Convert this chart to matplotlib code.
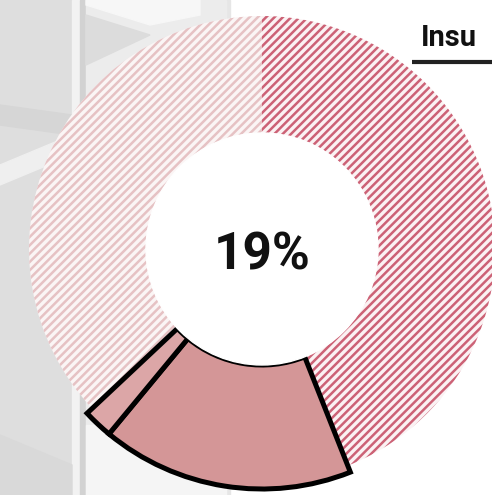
import matplotlib.pyplot as plt
from matplotlib.patches import Circle, Polygon, Rectangle

################################
## DATA:                      ##

segments = ['other', 'share', 'share_small', 'rest']
shares = [44, 17, 2, 37]
center_label = '19%'
heading = 'Insu'

################################
## STYLE:                     ##

FACES = ['#fbf2f3', '#d49697', '#dca6a7', '#fbf5f5']
STRIPES = ['#cc6276', 'black', 'black', '#e6c2c4']
HATCHES = ['////', '', '', '////']
HIGHLIGHT = [False, True, True, False]

CX, CY = 262, 246
R_OUT, R_IN = 233, 116
R_HI = 240

plt.rcParams['hatch.linewidth'] = 1.8
plt.rcParams['font.family'] = ['Roboto', 'DejaVu Sans']

fig = plt.figure(figsize=(4.92, 4.95), dpi=100)
fig.patch.set_facecolor('white')
ax = fig.add_axes([0, 0, 1, 1])

################################
## BACKGROUND (photo-ish):    ##

ax.add_patch(Rectangle((0, 0), 230, 495, color='#e6e6e6', zorder=0))
ax.add_patch(Rectangle((0, 0), 72, 495, color='#dedede', zorder=0))
ax.add_patch(Rectangle((72, 0), 8, 495, color='#f2f2f2', zorder=0))
ax.add_patch(Rectangle((80, 0), 6, 495, color='#d2d2d2', zorder=0))
ax.add_patch(Rectangle((86, 0), 140, 495, color='#ececec', zorder=0))
ax.add_patch(Polygon([(86, 490), (150, 470), (200, 480), (200, 495), (86, 495)],
                     color='#f7f7f7', zorder=0))
ax.add_patch(Polygon([(86, 430), (150, 460), (86, 480)], color='#dcdcdc', zorder=0))
ax.add_patch(Polygon([(0, 390), (72, 380), (72, 360), (0, 370)], color='#d6d6d6', zorder=0))
ax.add_patch(Polygon([(0, 330), (72, 360), (72, 340), (0, 310)], color='#efefef', zorder=0))
ax.add_patch(Polygon([(0, 60), (72, 30), (72, 0), (0, 0)], color='#d9d9d9', zorder=0))
ax.add_patch(Rectangle((86, 0), 140, 70, color='#f5f5f5', zorder=0))

################################
## DONUT:                     ##

wedges, _ = ax.pie(shares, center=(CX, CY), radius=R_OUT, startangle=90,
                   counterclock=False, frame=True,
                   wedgeprops=dict(width=R_OUT - R_IN, linewidth=0))

for w, face, stripe, hatch, hi in zip(wedges, FACES, STRIPES, HATCHES, HIGHLIGHT):
    w.set_facecolor(face)
    w.set_edgecolor(stripe)
    if hatch:
        w.set_hatch(hatch)
        w.set_linewidth(0)
        w.set_zorder(2)
    if hi:
        w.set_radius(R_HI)
        w.set_width(R_HI - R_IN)
        w.set_linewidth(3.6)
        w.set_joinstyle('miter')
        w.set_zorder(3)

ax.add_patch(Circle((CX, CY), R_IN, color='white', zorder=4))
ax.set_xlim(0, 492)
ax.set_ylim(0, 495)
ax.set_aspect('equal')
ax.axis('off')

ax.text(CX, CY - 7, center_label, ha='center', va='center', fontsize=37,
        fontweight='bold', color='#111111', zorder=5)

################################
## HEADING:                   ##

ax.text(421, 449, heading, ha='left', va='baseline', fontsize=21,
        fontweight='bold', color='#111111', zorder=5)
ax.plot([412, 492], [433, 433], color='#222222', linewidth=3, zorder=5,
        solid_capstyle='butt')

fig.savefig('out.png', dpi=100, facecolor='white')
